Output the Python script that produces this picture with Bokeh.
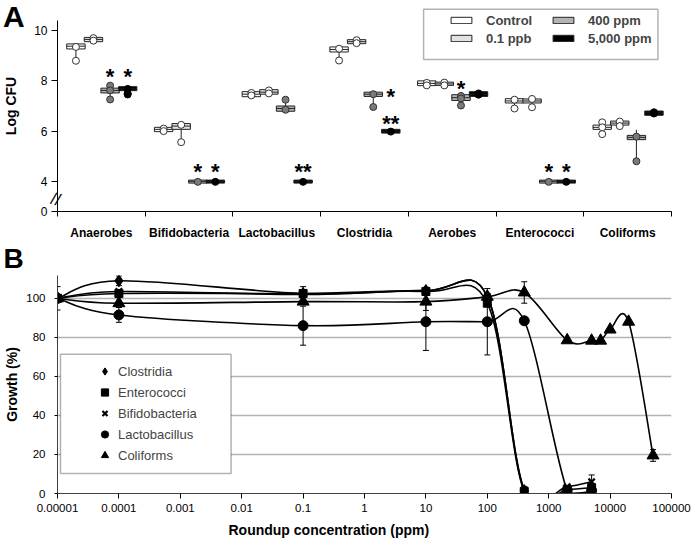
import numpy as np
from bokeh.plotting import figure
from bokeh.layouts import column
from bokeh.models import (FixedTicker, Legend, LegendItem, Whisker,
                          ColumnDataSource, TeeHead, Title, BoxAnnotation, Div)
from bokeh.core.properties import value
from bokeh.embed import file_html
from bokeh.resources import INLINE

FONT = "Liberation Sans"

# ---------------- Panel A data ----------------
categories = ["Anaerobes", "Bifidobacteria", "Lactobacillus", "Clostridia",
              "Aerobes", "Enterococci", "Coliforms"]
groups = ["Control", "0.1 ppb", "400 ppm", "5,000 ppm"]

control_q1 = [9.27, 5.98, 7.37, 9.15, 7.81, 7.12, 6.07]
control_med = [9.38, 6.07, 7.47, 9.25, 7.90, 7.20, 6.15]
control_q3 = [9.47, 6.15, 7.57, 9.35, 8.00, 7.29, 6.24]
control_lo = [8.80, 5.98, 7.37, 8.81, 7.81, 6.90, 5.88]
control_hi = [9.47, 6.15, 7.57, 9.35, 8.00, 7.29, 6.35]
control_pts = [[9.35, 8.80], [6.10, 6.00], [7.52, 7.42], [9.28, 8.81],
               [7.92, 7.82], [7.25, 6.90], [6.35, 6.15, 5.88]]

ppb_q1 = [9.56, 6.07, 7.47, 9.48, 7.82, 7.12, 6.24]
ppb_med = [9.65, 6.20, 7.55, 9.56, 7.88, 7.20, 6.32]
ppb_q3 = [9.73, 6.30, 7.65, 9.64, 7.95, 7.28, 6.40]
ppb_lo = [9.56, 5.56, 7.47, 9.48, 7.82, 6.95, 6.24]
ppb_hi = [9.73, 6.30, 7.65, 9.64, 7.95, 7.28, 6.40]
ppb_pts = [[9.70, 9.60], [6.25, 5.56], [7.62, 7.50], [9.62, 9.50],
           [7.93, 7.82], [7.28, 6.95], [6.38, 6.20]]

p400_q1 = [7.52, 3.93, 6.79, 7.38, 7.22, 3.93, 5.66]
p400_med = [7.62, 4.00, 6.90, 7.47, 7.33, 4.00, 5.75]
p400_q3 = [7.71, 4.05, 7.00, 7.55, 7.45, 4.05, 5.83]
p400_lo = [7.26, 3.93, 6.79, 6.96, 7.02, 3.93, 4.80]
p400_hi = [7.81, 4.05, 7.25, 7.55, 7.45, 4.05, 6.05]
p400_pts = [[7.81, 7.62, 7.26], [3.98], [7.25, 6.85], [7.47, 6.96],
            [7.40, 7.30, 7.02], [3.98], [5.78, 4.80]]

p5000_q1 = [7.61, 3.93, 3.93, 5.92, 7.38, 3.93, 6.63]
p5000_med = [7.68, 4.00, 4.00, 6.00, 7.47, 4.00, 6.72]
p5000_q3 = [7.77, 4.05, 4.05, 6.07, 7.57, 4.05, 6.80]
p5000_lo = [7.44, 3.93, 3.93, 5.92, 7.38, 3.93, 6.63]
p5000_hi = [7.77, 4.05, 4.05, 6.07, 7.57, 4.05, 6.80]
p5000_pts = [[7.68, 7.50, 7.46], [3.98], [3.98], [5.98], [7.50, 7.45],
             [3.98], [6.75, 6.70]]

# significance marks: category, group, height, text
star_cat = [0, 0, 1, 1, 2, 3, 3, 4, 5, 5]
star_grp = [2, 3, 2, 3, 3, 2, 3, 2, 2, 3]
star_y = [8.27, 8.27, 4.47, 4.47, 4.47, 7.47, 6.40, 7.77, 4.47, 4.47]
star_txt = ["*", "*", "*", "*", "**", "*", "**", "*", "*", "*"]

# ---------------- Panel B data ----------------
conc = [0.00001, 0.0001, 0.1, 10, 100, 400, 2000, 5000]
clostridia = [100, 109, 102.5, 104, 101, 1.5, 0.0, 1.0]
clostridia_err = [0, 2.5, 0, 0, 0, 0, 0, 0]
enterococci = [100, 102.5, 102.5, 103.5, 97.5, 1.0, 2.0, 3.0]
enterococci_err = [0, 0, 0, 0, 0, 0, 0, 0]
bifidobacteria = [100, 103.5, 102.0, 104.0, 101.0, 2.0, 3.5, 6.0]
bifidobacteria_err = [0, 0, 4.0, 0, 0, 0, 0, 3.5]
lactobacillus = [100, 91.5, 86.0, 88.0, 88.0, 88.5, 1.5, 1.5]
lactobacillus_err = [0, 3.8, 10.0, 14.7, 17.0, 0, 0, 0]
conc_coliforms = [0.00001, 0.0001, 0.1, 10, 100, 400, 2000, 5000, 7000,
                  10000, 20000, 50000]
coliforms = [100, 97.5, 98.3, 98.3, 100.8, 103.0, 78.5, 78.3, 78.3, 84.0,
             88.0, 19.5]
coliforms_err = [6.0, 0, 0, 4.5, 0, 5.5, 0, 0, 0, 0, 0, 3.0]

x_tick_vals = [1e-5, 1e-4, 1e-3, 1e-2, 1e-1, 1, 10, 100, 1000, 10000, 100000]
x_tick_text = ["0.00001", "0.0001", "0.001", "0.01", "0.1", "1", "10",
               "100", "1000", "10000", "100000"]
y_tick_vals_b = [0, 20, 40, 60, 80, 100]

# ============ Panel A ============
A_TOP = 11.199
pA = figure(width=694, height=242, x_range=(0, 7), y_range=(2.8, A_TOP),
            output_backend="svg", toolbar_location=None,
            min_border_left=55, min_border_right=5, min_border_top=0,
            min_border_bottom=27)
pA.outline_line_color = None
pA.grid.visible = False

offsets = [-0.29, -0.09, 0.10, 0.30]
BOX_W = 0.21
box_fill = ["white", "#e2e2e2", "#b4b4b4", "black"]
pt_fill = ["white", "white", "#7a7a7a", "black"]
pt_line = ["#333333", "#333333", "#333333", "black"]

group_data = [
    (control_q1, control_med, control_q3, control_lo, control_hi, control_pts),
    (ppb_q1, ppb_med, ppb_q3, ppb_lo, ppb_hi, ppb_pts),
    (p400_q1, p400_med, p400_q3, p400_lo, p400_hi, p400_pts),
    (p5000_q1, p5000_med, p5000_q3, p5000_lo, p5000_hi, p5000_pts),
]

box_renderers = []
for g, (q1, med, q3, lo, hi, pts) in enumerate(group_data):
    xs = [i + 0.5 + offsets[g] for i in range(len(categories))]
    pA.segment(x0=xs, y0=lo, x1=xs, y1=q1, line_color="#222222", line_width=1)
    pA.segment(x0=xs, y0=q3, x1=xs, y1=hi, line_color="#222222", line_width=1)
    r = pA.vbar(x=xs, bottom=q1, top=q3, width=BOX_W, fill_color=box_fill[g],
                line_color="#222222", line_width=1)
    box_renderers.append(r)
    pA.segment(x0=[x - BOX_W / 2 for x in xs], y0=med,
               x1=[x + BOX_W / 2 for x in xs], y1=med,
               line_color="#222222", line_width=1)
    px, py = [], []
    for i, vals in enumerate(pts):
        px += [xs[i]] * len(vals)
        py += vals
    pA.scatter(px, py, size=7, marker="circle", fill_color=pt_fill[g],
               line_color=pt_line[g], line_width=1)

sx = []
for c, g in zip(star_cat, star_grp):
    x = c + 0.5 + offsets[g]
    if c == 3 and g == 2:
        x += 0.2
    sx.append(x)
pA.text(x=sx, y=star_y, text=star_txt, text_font=value(FONT),
        text_font_style="bold", text_font_size="22px", text_align="center",
        text_baseline="alphabetic", y_offset=2, text_color="black")

ax = pA.xaxis[0]
ax.ticker = FixedTicker(ticks=[i + 0.5 for i in range(7)],
                        minor_ticks=[float(i) for i in range(8)])
ax.major_label_overrides = {i + 0.5: c for i, c in enumerate(categories)}
ax.major_tick_line_color = None
ax.major_tick_out = 0
ax.major_tick_in = 0
ax.minor_tick_out = 5
ax.minor_tick_in = 0
ax.minor_tick_line_color = "black"
ax.major_label_standoff = 9
ax.major_label_text_font = FONT
ax.major_label_text_font_style = "bold"
ax.major_label_text_font_size = "12px"
ax.major_label_text_color = "black"
ax.axis_line_color = "black"

ay = pA.yaxis[0]
ay.ticker = FixedTicker(ticks=[2.8, 4, 6, 8, 10])
ay.major_label_overrides = {2.8: "0"}
ay.bounds = (2.8, 10.41)
ay.major_tick_out = 6
ay.major_tick_in = 0
ay.minor_tick_line_color = None
ay.major_label_standoff = 4
ay.major_label_text_font = FONT
ay.major_label_text_font_size = "12px"
ay.major_label_text_color = "black"
ay.axis_line_color = "black"
ay.axis_label = "Log CFU"
ay.axis_label_text_font = FONT
ay.axis_label_text_font_style = "bold"
ay.axis_label_text_font_size = "14px"
ay.axis_label_text_color = "black"
ay.axis_label_standoff = 12

# legend frame + legend
pA.add_layout(BoxAnnotation(left=4.1736, right=6.8455, top=10.847,
                            bottom=8.855, fill_color="white", fill_alpha=1,
                            line_color="black", line_width=1.5))
legA = Legend(items=[LegendItem(label=groups[i], renderers=[box_renderers[i]])
                     for i in range(4)],
              location=(391, 165), orientation="vertical", nrows=2,
              glyph_width=26, glyph_height=8, label_height=16, label_width=62,
              label_standoff=12, spacing=2, padding=0, margin=0,
              border_line_color=None, background_fill_alpha=0,
              label_text_font=FONT, label_text_font_style="bold",
              label_text_font_size="13px")
pA.add_layout(legA)

# ============ Panel B ============
PX_PER_DEC = 61.9
PX_PER_PCT = 1.96
B_TOP = 111.7

pB = figure(width=694, height=300, x_axis_type="log", x_range=(1e-5, 1e5),
            y_range=(0, B_TOP), output_backend="svg", toolbar_location=None,
            min_border_left=52, min_border_right=23, min_border_top=32,
            min_border_bottom=49)
pB.outline_line_color = None
pB.xgrid.visible = False
pB.ygrid.ticker = FixedTicker(ticks=[20, 40, 60, 80, 100])
pB.ygrid.grid_line_color = "#b2b2b2"
pB.ygrid.grid_line_width = 1.3


def bezier_parts(xs, ys):
    X = np.log10(np.array(xs, float)) * PX_PER_DEC
    Y = np.array(ys, float) * PX_PER_PCT
    P = np.column_stack([X, Y])
    n = len(P)
    out = {k: [] for k in ("x0", "y0", "x1", "y1", "cx0", "cy0", "cx1", "cy1")}

    def back(pt):
        return 10 ** (pt[0] / PX_PER_DEC), pt[1] / PX_PER_PCT

    for i in range(n - 1):
        a = P[i - 1] if i > 0 else P[i]
        b, c = P[i], P[i + 1]
        d = P[i + 2] if i + 2 < n else P[i + 1]
        c1 = b + (c - a) / 6.0
        c2 = c - (d - b) / 6.0
        for key, pt in (("0", b), ("1", c)):
            xx, yy = back(pt)
            out["x" + key].append(xx)
            out["y" + key].append(yy)
        xx, yy = back(c1)
        out["cx0"].append(xx)
        out["cy0"].append(yy)
        xx, yy = back(c2)
        out["cx1"].append(xx)
        out["cy1"].append(yy)
    return out


series = [
    ("Clostridia", conc, clostridia, clostridia_err, "diamond", 12, 1),
    ("Enterococci", conc, enterococci, enterococci_err, "square", 8, 1),
    ("Bifidobacteria", conc, bifidobacteria, bifidobacteria_err, "x", 9, 2.2),
    ("Lactobacillus", conc, lactobacillus, lactobacillus_err, "circle", 10, 1),
    ("Coliforms", conc_coliforms, coliforms, coliforms_err, "triangle", 12, 1),
]

wb, wu, wl = [], [], []
legend_items = []
for name, xs, ys, errs, marker, size, lw in series:
    bz = bezier_parts(xs, ys)
    pB.bezier(source=ColumnDataSource(bz), x0="x0", y0="y0", x1="x1", y1="y1",
              cx0="cx0", cy0="cy0", cx1="cx1", cy1="cy1",
              line_color="black", line_width=1.6)
    for x, y, e in zip(xs, ys, errs):
        if e > 0:
            wb.append(x)
            wu.append(y + e)
            wl.append(y - e)
    sr = pB.scatter(xs, ys, marker=marker, size=size, fill_color="black",
                    line_color="black", line_width=lw)
    lr = pB.line(x=[], y=[], line_color="black", line_width=1.6)
    legend_items.append(LegendItem(label=name, renderers=[lr, sr]))

wsrc = ColumnDataSource(dict(base=wb, upper=wu, lower=wl))
pB.add_layout(Whisker(source=wsrc, base="base", upper="upper", lower="lower",
                      dimension="height", line_color="black", line_width=1,
                      upper_head=TeeHead(size=6, line_color="black", line_width=1),
                      lower_head=TeeHead(size=6, line_color="black", line_width=1)))

bx = pB.xaxis[0]
bx.ticker = FixedTicker(ticks=x_tick_vals)
bx.major_label_overrides = dict(zip(x_tick_vals, x_tick_text))
bx.major_tick_out = 5
bx.major_tick_in = 0
bx.minor_tick_line_color = None
bx.major_label_standoff = 5
bx.major_label_text_font = FONT
bx.major_label_text_font_size = "11.5px"
bx.major_label_text_color = "black"
bx.axis_line_color = "#404040"

by = pB.yaxis[0]
by.ticker = FixedTicker(ticks=y_tick_vals_b)
by.major_tick_out = 3
by.major_tick_in = 0
by.minor_tick_line_color = None
by.major_label_standoff = 9
by.major_label_text_font = FONT
by.major_label_text_font_size = "11.5px"
by.major_label_text_color = "black"
by.axis_line_color = "#404040"
by.axis_label = "Growth (%)"
by.axis_label_text_font = FONT
by.axis_label_text_font_style = "bold"
by.axis_label_text_font_size = "14px"
by.axis_label_text_color = "black"
by.axis_label_standoff = 3

pB.add_layout(BoxAnnotation(left=10 ** (-5 + 3 / PX_PER_DEC),
                            right=10 ** (-5 + 175 / PX_PER_DEC),
                            top=71.4, bottom=10.2, fill_color="white",
                            fill_alpha=1, line_color="black", line_width=1.5))
legB = Legend(items=legend_items, location=(36, 29), orientation="vertical",
              glyph_width=23, glyph_height=18, label_height=18,
              label_standoff=2, spacing=3, padding=0, margin=0,
              border_line_color=None, background_fill_alpha=0,
              label_text_font=FONT, label_text_font_size="13px")
pB.add_layout(legB)

pB.add_layout(Title(text="B", align="left", offset=-54, standoff=0,
                    vertical_align="top", text_font=FONT,
                    text_font_style="bold", text_font_size="28px",
                    text_color="black"), "above")
pB.add_layout(Title(text="Roundup concentration (ppm)", align="left",
                    offset=171, standoff=10, text_font=FONT,
                    text_font_style="bold", text_font_size="14px",
                    text_color="black"), "below")

# panel letter A and the axis-break mark (outside the plot frames)
divA = Div(text="A", margin=0,
           styles={"position": "absolute", "left": "3px", "top": "0px",
                   "font-family": FONT, "font-size": "30px",
                   "font-weight": "bold", "line-height": "34px",
                   "color": "black", "z-index": "10"})
divBreak = Div(text="//", margin=0,
               styles={"position": "absolute", "left": "51px", "top": "191px",
                       "font-family": FONT, "font-size": "17px",
                       "line-height": "17px", "color": "black",
                       "transform": "rotate(15deg)", "z-index": "10"})

layout = column(pA, pB, divA, divBreak, spacing=0)
open("out.html", "w").write(file_html(layout, INLINE))
